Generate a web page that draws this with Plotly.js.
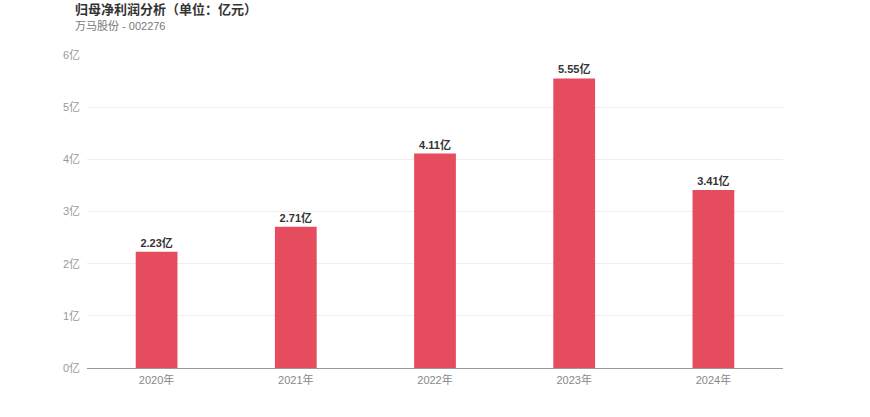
<!DOCTYPE html>
<html>
<head>
<meta charset="utf-8">
<script src="https://cdn.plot.ly/plotly-3.0.1.min.js"></script>
<style>
html,body{margin:0;padding:0;background:#fff;}
#chart{width:870px;height:417px;}
</style>
</head>
<body>
<div id="chart"></div>
<script>
const categories = ["2020年", "2021年", "2022年", "2023年", "2024年"];
const values = [2.23, 2.71, 4.11, 5.55, 3.41];
const valueLabels = ["2.23亿", "2.71亿", "4.11亿", "5.55亿", "3.41亿"];
const titleText = "归母净利润分析（单位：亿元）";
const subtitleText = "万马股份 - 002276";

const font = '"Liberation Sans", "Noto Sans CJK SC", sans-serif';

const trace = {
  type: "bar",
  x: categories,
  y: values,
  text: valueLabels,
  textposition: "outside",
  cliponaxis: false,
  textfont: {family: font, size: 11, color: "#333"},
  texttemplate: "<b>%{text}</b>",
  marker: {color: "#e54c5e"},
  width: 0.3,
  hoverinfo: "none"
};

const layout = {
  width: 870,
  height: 417,
  margin: {l: 87, r: 87, t: 55, b: 49},
  paper_bgcolor: "#fff",
  plot_bgcolor: "#fff",
  showlegend: false,
  font: {family: font, size: 11, color: "#999"},
  xaxis: {
    type: "category",
    showgrid: false,
    showline: true,
    linecolor: "#999",
    linewidth: 1,
    ticks: "",
    ticklabelstandoff: 2,
    tickfont: {family: font, size: 11, color: "#888"},
    fixedrange: true
  },
  yaxis: {
    range: [0, 6],
    dtick: 1,
    tick0: 0,
    ticksuffix: "亿",
    showgrid: true,
    gridcolor: "#eeeeee",
    gridwidth: 1,
    zeroline: false,
    showline: false,
    ticks: "",
    ticklabelstandoff: 6,
    tickfont: {family: font, size: 11, color: "#999"},
    fixedrange: true
  },
  annotations: [
    {text: "<b>" + titleText + "</b>", xref: "paper", yref: "paper", x: -14/696, y: 1 + 46/313,
     xanchor: "left", yanchor: "middle", showarrow: false,
     font: {family: font, size: 13, color: "#333"}},
    {text: subtitleText, xref: "paper", yref: "paper", x: -14/696, y: 1 + 28.5/313,
     xanchor: "left", yanchor: "middle", showarrow: false,
     font: {family: font, size: 11, color: "#777"}}
  ]
};

Plotly.newPlot("chart", [trace], layout, {displayModeBar: false, staticPlot: true});
</script>
</body>
</html>
